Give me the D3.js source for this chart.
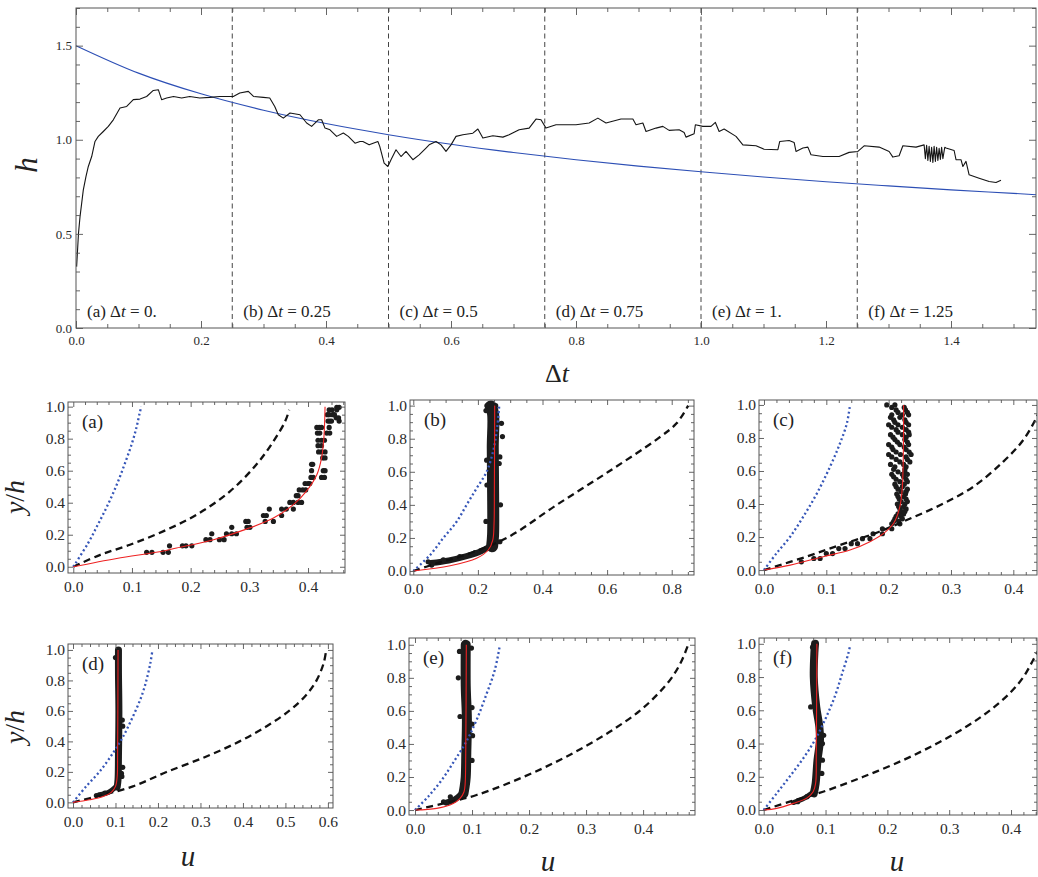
<!DOCTYPE html>
<html>
<head>
<meta charset="utf-8">
<script src="https://cdn.jsdelivr.net/npm/d3@7"></script>
<style>
  body { margin: 0; background: #fff; }
  svg { display: block; }
  svg text { white-space: pre; }
</style>
</head>
<body>
<script>
// ---------- data: top panel ----------
const markTimes = [0, 0.25, 0.5, 0.75, 1.0, 1.25];
const markTags = ["(a)", "(b)", "(c)", "(d)", "(e)", "(f)"];
const markText = ["0.", "0.25", "0.5", "0.75", "1.", "1.25"];

const hTimes = [0.001,0.004,0.0064,0.0117,0.016,0.0197,0.0251,0.0304,0.0357,0.0437,0.0517,0.0597,0.0704,0.0811,0.0917,0.1024,0.113,0.1237,0.1317,0.137,0.145,0.156,0.169,0.182,0.198,0.214,0.23,0.2517,0.262,0.2757,0.284,0.2997,0.31,0.318,0.3237,0.3317,0.3424,0.3584,0.369,0.377,0.3877,0.393,0.3984,0.4064,0.417,0.4277,0.4357,0.4464,0.4544,0.459,0.469,0.483,0.486,0.493,0.499,0.504,0.512,0.52,0.528,0.539,0.549,0.56,0.565,0.576,0.584,0.592,0.6,0.608,0.619,0.635,0.643,0.651,0.667,0.683,0.693,0.709,0.725,0.736,0.744,0.752,0.768,0.8,0.821,0.835,0.848,0.872,0.891,0.896,0.907,0.912,0.928,0.939,0.949,0.965,0.973,0.976,0.989,0.991,1.003,1.016,1.023,1.029,1.037,1.056,1.067,1.088,1.101,1.123,1.126,1.141,1.149,1.152,1.163,1.171,1.176,1.195,1.221,1.237,1.251,1.261,1.285,1.301,1.307,1.317,1.323,1.344,1.357,1.359,1.361,1.363,1.365,1.367,1.369,1.371,1.373,1.375,1.377,1.379,1.381,1.383,1.385,1.387,1.39,1.392,1.405,1.408,1.416,1.419,1.424,1.429,1.445,1.461,1.472,1.48];
const hValues = [0.326,0.504,0.59,0.734,0.805,0.858,0.911,0.991,1.018,1.044,1.071,1.106,1.169,1.177,1.213,1.216,1.23,1.262,1.266,1.213,1.222,1.23,1.222,1.23,1.222,1.225,1.23,1.23,1.248,1.257,1.23,1.225,1.222,1.177,1.133,1.115,1.142,1.133,1.089,1.071,1.106,1.106,1.062,1.053,1.018,1.036,1.018,0.982,0.991,0.991,0.973,0.991,0.965,0.876,0.858,0.894,0.947,0.911,0.938,0.894,0.92,0.956,0.973,0.991,0.973,0.938,0.973,1.018,1.027,1.035,1.057,1.009,1.021,1.014,1.027,1.053,1.062,1.11,1.106,1.062,1.08,1.08,1.089,1.115,1.089,1.11,1.11,1.08,1.089,1.044,1.062,1.071,1.05,1.053,1.039,1.014,1.032,1.08,1.071,1.071,1.092,1.044,1.057,1.018,0.973,0.968,0.95,0.947,0.991,0.996,0.986,0.938,0.956,0.961,0.92,0.911,0.911,0.933,0.938,0.968,0.961,0.938,0.908,0.915,0.968,0.961,0.973,0.9,0.97,0.89,0.965,0.885,0.96,0.88,0.965,0.885,0.96,0.89,0.955,0.895,0.96,0.9,0.96,0.956,0.943,0.894,0.894,0.858,0.885,0.814,0.796,0.778,0.773,0.785];

// smooth reference curve (blue)
const fitTimes = [0,0.1,0.2,0.3,0.4,0.5,0.6,0.7,0.8,0.9,1.0,1.1,1.2,1.3,1.4,1.5,1.536];
const fitValues = [1.5,1.354,1.244,1.157,1.086,1.027,0.976,0.932,0.894,0.86,0.83,0.802,0.777,0.755,0.734,0.715,0.708];

// ---------- data: profile panels, [u, y/h] ----------
const blueA = [[0,0],[0.025,0.146],[0.043,0.271],[0.06,0.396],[0.075,0.521],[0.088,0.646],[0.1,0.771],[0.108,0.875],[0.113,0.958],[0.116,1.0]];
const dashA = [[0,0],[0.045,0.073],[0.0965,0.1375],[0.153,0.221],[0.21,0.325],[0.267,0.471],[0.312,0.638],[0.341,0.783],[0.361,0.908],[0.368,0.98]];
const redA = [[0,0],[0.074,0.052],[0.147,0.094],[0.176,0.117],[0.239,0.169],[0.295,0.235],[0.341,0.304],[0.375,0.388],[0.397,0.471],[0.415,0.575],[0.423,0.679],[0.427,0.804],[0.429,1.0]];
const dotsA = [[0.125,0.09],[0.134,0.09],[0.153,0.09],[0.162,0.09],
  [0.164,0.131],[0.186,0.131],[0.192,0.131],[0.202,0.131],
  [0.226,0.169],[0.233,0.169],[0.249,0.169],[0.257,0.169],
  [0.236,0.206],[0.261,0.206],[0.27,0.206],[0.278,0.206],
  [0.27,0.246],[0.296,0.246],[0.301,0.246],
  [0.294,0.283],[0.298,0.283],[0.327,0.283],[0.341,0.283],
  [0.324,0.32],[0.329,0.32],[0.355,0.32],
  [0.334,0.36],[0.355,0.36],[0.363,0.36],[0.375,0.36],
  [0.369,0.402],[0.375,0.402],[0.383,0.402],[0.389,0.402],
  [0.38,0.444],[0.383,0.444],
  [0.385,0.48],[0.391,0.48],[0.396,0.48],
  [0.395,0.52],[0.4,0.52],[0.403,0.52],
  [0.405,0.558],[0.409,0.558],[0.423,0.558],[0.428,0.558],
  [0.406,0.6],[0.426,0.6],[0.429,0.6],
  [0.406,0.64],[0.408,0.64],
  [0.425,0.68],[0.429,0.68],
  [0.418,0.717],[0.423,0.717],[0.429,0.717],
  [0.417,0.756],[0.423,0.756],
  [0.417,0.79],[0.423,0.79],[0.428,0.79],
  [0.416,0.835],[0.42,0.835],[0.432,0.835],[0.437,0.835],
  [0.415,0.87],[0.419,0.87],[0.423,0.87],[0.436,0.87],
  [0.434,0.91],[0.437,0.91],[0.44,0.91],[0.453,0.91],
  [0.448,0.93],[0.452,0.93],
  [0.433,0.95],[0.436,0.95],[0.442,0.95],[0.445,0.95],
  [0.436,0.98],[0.441,0.98],[0.449,0.98],[0.449,0.996],[0.453,0.996]];

const blueB = [[0,0],[0.052,0.097],[0.093,0.2],[0.134,0.298],[0.165,0.4],[0.196,0.5],[0.227,0.6],[0.248,0.732],[0.26,0.873],[0.266,1.0]];
const dashB = [[0,0],[0.072,0.046],[0.144,0.087],[0.289,0.2],[0.444,0.4],[0.604,0.6],[0.758,0.802],[0.815,0.893],[0.851,1.0]];
const redB = [[0,0],[0.114,0.032],[0.196,0.077],[0.232,0.127],[0.246,0.1875],[0.25,0.288],[0.251,0.49],[0.252,1.0]];
const lowB = [[0.055,0.048],[0.11,0.064],[0.165,0.09],[0.21,0.12],[0.238,0.15]];
const bandB = [[0.244,0.15],[0.247,0.22],[0.247,0.5],[0.246,0.75],[0.247,0.95],[0.24,0.995]];
const dotsB = [[0.225,0.97],[0.228,1.0],[0.255,1.0],[0.273,0.893],[0.276,0.813],[0.268,0.69],[0.266,0.65],[0.227,0.67],[0.27,0.4],[0.268,0.177],[0.253,0.167],[0.057,0.036],[0.046,0.056],[0.093,0.067],[0.144,0.087],[0.191,0.111],[0.225,0.3],[0.228,0.52]];

const blueC = [[0,0],[0.02,0.101],[0.042,0.202],[0.063,0.323],[0.085,0.465],[0.106,0.626],[0.122,0.768],[0.133,0.889],[0.138,1.0]];
const dashC = [[0,0],[0.068,0.081],[0.122,0.152],[0.178,0.222],[0.229,0.303],[0.283,0.394],[0.336,0.505],[0.384,0.657],[0.416,0.788],[0.438,0.93],[0.446,1.0]];
const redC = [[0,0],[0.042,0.03],[0.095,0.081],[0.138,0.121],[0.17,0.172],[0.192,0.222],[0.208,0.283],[0.218,0.384],[0.222,0.505],[0.224,1.0]];
const dotsC = [[0.197,1.0],[0.21,1.0],[0.205,0.985],[0.225,0.985],[0.212,0.97],[0.227,0.97],[0.215,0.955],[0.23,0.955],
  [0.205,0.94],[0.222,0.94],[0.232,0.94],[0.203,0.925],[0.218,0.925],[0.208,0.91],[0.226,0.91],[0.21,0.895],[0.228,0.895],
  [0.2,0.88],[0.215,0.88],[0.232,0.88],[0.205,0.865],[0.222,0.865],[0.212,0.85],[0.228,0.85],[0.215,0.835],[0.232,0.835],
  [0.203,0.82],[0.222,0.82],[0.233,0.82],[0.207,0.805],[0.228,0.805],[0.21,0.79],[0.226,0.79],[0.214,0.775],[0.23,0.775],
  [0.2,0.76],[0.218,0.76],[0.232,0.76],[0.205,0.745],[0.225,0.745],[0.207,0.73],[0.228,0.73],[0.212,0.715],[0.233,0.715],
  [0.2,0.7],[0.219,0.7],[0.236,0.7],[0.205,0.685],[0.228,0.685],[0.212,0.67],[0.23,0.67],[0.218,0.655],[0.234,0.655],
  [0.203,0.64],[0.224,0.64],[0.21,0.625],[0.228,0.625],[0.208,0.61],[0.226,0.61],[0.215,0.595],[0.226,0.595],
  [0.205,0.58],[0.222,0.58],[0.23,0.58],[0.208,0.565],[0.224,0.565],[0.212,0.55],[0.228,0.55],[0.218,0.535],[0.23,0.535],
  [0.21,0.52],[0.225,0.52],[0.212,0.505],[0.222,0.505],[0.215,0.49],[0.23,0.49],[0.22,0.475],[0.228,0.475],
  [0.213,0.46],[0.227,0.46],[0.215,0.445],[0.224,0.445],[0.217,0.43],[0.228,0.43],[0.22,0.415],[0.23,0.415],
  [0.214,0.4],[0.226,0.4],[0.216,0.385],[0.224,0.385],[0.218,0.37],[0.228,0.37],[0.22,0.355],[0.226,0.355],
  [0.215,0.34],[0.224,0.34],[0.212,0.325],[0.22,0.325],[0.21,0.31],[0.222,0.31],[0.208,0.295],[0.216,0.295],
  [0.205,0.28],[0.218,0.28],[0.19,0.25],[0.205,0.25],[0.175,0.22],[0.19,0.22],[0.158,0.19],[0.17,0.19],
  [0.14,0.16],[0.15,0.16],[0.12,0.13],[0.13,0.13],[0.1,0.1],[0.11,0.1],[0.08,0.07],[0.09,0.07],[0.06,0.05]];

const blueD = [[0,0],[0.031,0.105],[0.063,0.203],[0.094,0.323],[0.118,0.432],[0.141,0.563],[0.161,0.694],[0.173,0.803],[0.182,0.913],[0.187,1.0]];
const dashD = [[0,0],[0.063,0.044],[0.141,0.105],[0.22,0.199],[0.314,0.301],[0.392,0.4],[0.455,0.498],[0.51,0.603],[0.549,0.705],[0.573,0.799],[0.59,0.913],[0.596,1.0]];
const redD = [[0,0],[0.039,0.017],[0.071,0.039],[0.09,0.066],[0.1,0.105],[0.104,0.17],[0.105,0.323],[0.106,1.0]];
const lowD = [[0.062,0.05],[0.085,0.068],[0.1,0.1]];
const bandD = [[0.104,0.1],[0.106,0.15],[0.107,0.3],[0.108,0.6],[0.107,0.85],[0.107,1.0]];
const dotsD = [[0.116,0.54],[0.117,0.5],[0.117,0.23],[0.115,0.17],[0.114,0.19],[0.055,0.045],[0.075,0.06],[0.1,0.95]];

const blueE = [[0,0],[0.023,0.081],[0.047,0.182],[0.07,0.303],[0.09,0.414],[0.108,0.545],[0.126,0.707],[0.14,0.848],[0.149,1.0]];
const dashE = [[0,0],[0.05,0.04],[0.108,0.091],[0.19,0.2],[0.254,0.303],[0.306,0.4],[0.353,0.499],[0.394,0.6],[0.426,0.703],[0.45,0.8],[0.467,0.899],[0.479,1.0]];
const redE = [[0,0],[0.038,0.01],[0.067,0.04],[0.079,0.071],[0.086,0.111],[0.088,0.162],[0.089,0.343],[0.09,1.0]];
const lowE = [[0.055,0.045],[0.07,0.065],[0.082,0.1]];
const bandE = [[0.085,0.1],[0.087,0.14],[0.089,0.2],[0.09,0.35],[0.091,0.55],[0.089,0.75],[0.089,1.0]];
const dotsE = [[0.079,0.566],[0.1,0.52],[0.1,0.62],[0.076,0.8],[0.1,0.3],[0.078,0.96],[0.099,0.98],[0.062,0.08],[0.05,0.05],[0.101,0.45]];

const blueF = [[0,0],[0.021,0.1],[0.042,0.201],[0.064,0.311],[0.083,0.422],[0.099,0.542],[0.115,0.683],[0.127,0.823],[0.137,0.944],[0.14,0.994]];
const dashF = [[0,0],[0.042,0.05],[0.096,0.11],[0.161,0.2],[0.226,0.301],[0.28,0.4],[0.328,0.502],[0.366,0.6],[0.398,0.703],[0.42,0.8],[0.436,0.904],[0.45,1.0]];
const redF = [[0,0],[0.021,0.01],[0.048,0.04],[0.069,0.07],[0.08,0.11],[0.084,0.161],[0.085,0.341],[0.086,1.0]];
const lowF = [[0.048,0.045],[0.065,0.07],[0.077,0.1]];
const bandF = [[0.081,0.1],[0.084,0.16],[0.087,0.3],[0.091,0.42],[0.09,0.5],[0.085,0.62],[0.081,0.8],[0.082,0.95],[0.083,1.0]];
const dotsF = [[0.095,0.4],[0.097,0.45],[0.076,0.62],[0.079,0.98],[0.095,0.3],[0.094,0.22],[0.055,0.05],[0.07,0.08]];

// ---------- layout ----------
const W = 1038, H = 877;
const serif = "'Liberation Serif', 'Times New Roman', serif";
const fmt = d3.format(".1f");

const panels = [
  {tag: "(a)", box: [68, 402, 345, 573], xDom: [-0.009, 0.463], yDom: [-0.039, 1.029], xMajor: 0.1, xMinor: 0.02, blue: blueA, dash: dashA, red: redA, bands: [], dots: dotsA},
  {tag: "(b)", box: [410, 400, 694, 575], xDom: [-0.0102, 0.869], yDom: [-0.024, 1.034], xMajor: 0.2, xMinor: 0.05, blue: blueB, dash: dashB, red: redB, bands: [[lowB, 6], [bandB, 12]], dots: dotsB},
  {tag: "(c)", box: [759, 400, 1037, 575], xDom: [-0.008, 0.438], yDom: [-0.03, 1.03], xMajor: 0.1, xMinor: 0.02, blue: blueC, dash: dashC, red: redC, bands: [], dots: dotsC},
  {tag: "(d)", box: [68, 644, 333, 808], xDom: [-0.0118, 0.612], yDom: [-0.037, 1.039], xMajor: 0.1, xMinor: 0.02, blue: blueD, dash: dashD, red: redD, bands: [[lowD, 5], [bandD, 7]], dots: dotsD},
  {tag: "(e)", box: [409, 638, 695, 815], xDom: [-0.0105, 0.491], yDom: [-0.03, 1.041], xMajor: 0.1, xMinor: 0.02, blue: blueE, dash: dashE, red: redE, bands: [[lowE, 6], [bandE, 10]], dots: dotsE},
  {tag: "(f)", box: [759, 638, 1037, 815], xDom: [-0.0076, 0.442], yDom: [-0.03, 1.035], xMajor: 0.1, xMinor: 0.02, blue: blueF, dash: dashF, red: redF, bands: [[lowF, 5], [bandF, 8]], dots: dotsF}
];

const svg = d3.select("body").append("svg")
  .attr("width", W).attr("height", H)
  .style("font-family", serif);

function ticksIn(dom, step) {
  const out = [];
  const s = Math.ceil(dom[0] / step - 1e-9), e = Math.floor(dom[1] / step + 1e-9);
  for (let i = s; i <= e; i++) out.push(+(i * step).toFixed(6));
  return out;
}

// frame with inward ticks on all four sides, labels bottom + left
function frame(g, x, y, o) {
  const [x0, x1] = x.range(), [y0, y1] = y.range();
  const xMaj = ticksIn(x.domain(), o.xMajor);
  const xMin = ticksIn(x.domain(), o.xMinor).filter(v => !xMaj.some(m => Math.abs(m - v) < 1e-6));
  const yMaj = ticksIn(y.domain(), o.yMajor);
  const yMin = ticksIn(y.domain(), o.yMinor).filter(v => !yMaj.some(m => Math.abs(m - v) < 1e-6));

  const put = (axis, tr, labels) => {
    const a = g.append("g").attr("transform", tr).attr("color", "#555").call(axis);
    a.select(".domain").remove();
    a.selectAll("line").attr("stroke-width", 0.9);
    a.attr("font-family", null).attr("font-size", o.font);
    a.selectAll("text").attr("fill", "#2a2a2a").style("font-family", serif);
    if (!labels) a.selectAll("text").remove();
  };
  put(d3.axisBottom(x).tickValues(xMaj).tickSize(-o.maj).tickPadding(o.padX).tickFormat(fmt), `translate(0,${y0})`, true);
  put(d3.axisBottom(x).tickValues(xMin).tickSize(-o.min), `translate(0,${y0})`, false);
  put(d3.axisTop(x).tickValues(xMaj).tickSize(-o.maj), `translate(0,${y1})`, false);
  put(d3.axisTop(x).tickValues(xMin).tickSize(-o.min), `translate(0,${y1})`, false);
  put(d3.axisLeft(y).tickValues(yMaj).tickSize(-o.maj).tickPadding(o.padY).tickFormat(fmt), `translate(${x0},0)`, true);
  put(d3.axisLeft(y).tickValues(yMin).tickSize(-o.min), `translate(${x0},0)`, false);
  put(d3.axisRight(y).tickValues(yMaj).tickSize(-o.maj), `translate(${x1},0)`, false);
  put(d3.axisRight(y).tickValues(yMin).tickSize(-o.min), `translate(${x1},0)`, false);

  g.append("rect")
    .attr("x", x0).attr("y", y1).attr("width", x1 - x0).attr("height", y0 - y1)
    .attr("fill", "none").attr("stroke", "#555").attr("stroke-width", 1);
}

// ---------- top panel ----------
const tx = d3.scaleLinear([0, 1.536], [76, 1036]);
const ty = d3.scaleLinear([0, 1.7], [328, 8]);
const topG = svg.append("g");

topG.append("g").selectAll("line")
  .data(markTimes.slice(1))
  .join("line")
  .attr("x1", d => tx(d)).attr("x2", d => tx(d))
  .attr("y1", ty(1.7)).attr("y2", ty(0))
  .attr("stroke", "#444").attr("stroke-width", 1)
  .attr("stroke-dasharray", "5,3.5");

topG.append("path")
  .datum(d3.zip(fitTimes, fitValues))
  .attr("fill", "none").attr("stroke", "#2d4fb5").attr("stroke-width", 1.1)
  .attr("d", d3.line().x(d => tx(d[0])).y(d => ty(d[1])).curve(d3.curveMonotoneX));

topG.append("path")
  .datum(d3.zip(hTimes, hValues))
  .attr("fill", "none").attr("stroke", "#151515").attr("stroke-width", 1.1)
  .attr("stroke-linejoin", "round")
  .attr("d", d3.line().x(d => tx(d[0])).y(d => ty(d[1])));

const ann = topG.append("g").selectAll("text")
  .data(markTimes.map((t, i) => ({t, tag: markTags[i], v: markText[i]})))
  .join("text")
  .attr("x", d => tx(d.t) + 11)
  .attr("y", 317)
  .attr("font-size", 17)
  .attr("fill", "#222");
ann.append("tspan").text(d => d.tag + " \u0394");
ann.append("tspan").attr("font-style", "italic").text("t");
ann.append("tspan").text(d => " = " + d.v);

frame(topG, tx, ty, {xMajor: 0.2, xMinor: 0.05, yMajor: 0.5, yMinor: 0.1, maj: 7, min: 4, font: 13, padX: 8, padY: 4});

const dtLabel = svg.append("text").attr("x", 557).attr("y", 382)
  .attr("text-anchor", "middle").attr("font-size", 26).attr("fill", "#222");
dtLabel.append("tspan").text("\u0394");
dtLabel.append("tspan").attr("font-style", "italic").text("t");

svg.append("text")
  .attr("transform", "translate(37,165) rotate(-90)")
  .attr("text-anchor", "middle").attr("font-size", 31)
  .attr("font-style", "italic").attr("fill", "#222")
  .text("h");

// ---------- profile panels ----------
panels.forEach((p, i) => {
  const [x0, y0, x1, y1] = p.box;
  const x = d3.scaleLinear(p.xDom, [x0, x1]);
  const y = d3.scaleLinear(p.yDom, [y1, y0]);
  const g = svg.append("g");
  const clipId = "clip" + i;
  g.append("clipPath").attr("id", clipId)
    .append("rect").attr("x", x0).attr("y", y0).attr("width", x1 - x0).attr("height", y1 - y0);
  const plot = g.append("g").attr("clip-path", `url(#${clipId})`);
  const line = d3.line().x(d => x(d[0])).y(d => y(d[1])).curve(d3.curveCatmullRom);

  p.bands.forEach(([pts, w]) => {
    plot.append("path").datum(pts)
      .attr("fill", "none").attr("stroke", "#1c1c1c")
      .attr("stroke-width", w).attr("stroke-linecap", "round").attr("stroke-linejoin", "round")
      .attr("d", line);
  });
  plot.append("g").selectAll("circle")
    .data(p.dots)
    .join("circle")
    .attr("cx", d => x(d[0])).attr("cy", d => y(d[1]))
    .attr("r", 2.6).attr("fill", "#1c1c1c");

  plot.append("path").datum(p.dash)
    .attr("fill", "none").attr("stroke", "#111").attr("stroke-width", 2.3)
    .attr("stroke-dasharray", "7,4.5").attr("d", line);
  plot.append("path").datum(p.blue)
    .attr("fill", "none").attr("stroke", "#3656b8").attr("stroke-width", 2.3)
    .attr("stroke-dasharray", "2,2.6").attr("d", line);
  plot.append("path").datum(p.red)
    .attr("fill", "none").attr("stroke", "#ee2222").attr("stroke-width", 1.1)
    .attr("d", line);

  frame(g, x, y, {xMajor: p.xMajor, xMinor: p.xMinor, yMajor: 0.2, yMinor: 0.05, maj: 5, min: 3, font: 15.5, padX: 7.5, padY: 3});

  g.append("text").attr("x", x0 + 14).attr("y", y0 + 26)
    .attr("font-size", 19).attr("fill", "#222").text(p.tag);
});

// axis titles for the profile grid
[[24, 497], [24, 727]].forEach(([cx, cy]) => {
  const t = svg.append("text")
    .attr("transform", `translate(${cx},${cy}) rotate(-90)`)
    .attr("text-anchor", "middle").attr("font-size", 28).attr("fill", "#222");
  t.append("tspan").attr("font-style", "italic").text("y");
  t.append("tspan").text("/");
  t.append("tspan").attr("font-style", "italic").text("h");
});

[[188, 866], [548, 871], [897, 871]].forEach(([cx, cy]) => {
  svg.append("text").attr("x", cx).attr("y", cy)
    .attr("text-anchor", "middle").attr("font-size", 29)
    .attr("font-style", "italic").attr("fill", "#222").text("u");
});
</script>
</body>
</html>
